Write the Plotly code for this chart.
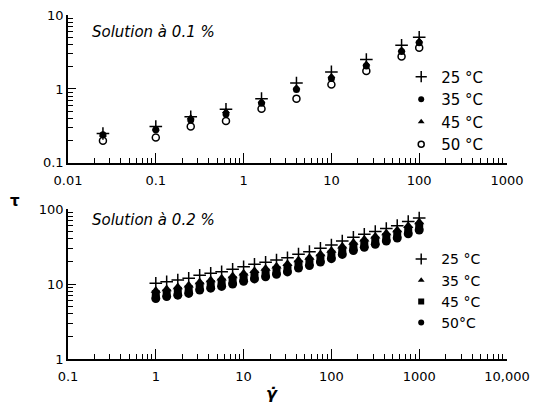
import plotly.graph_objects as go

# ---- data: top panel (solution 0.1 %) ----
rate_top = [0.025, 0.1, 0.25, 0.63, 1.6, 4, 10, 25, 63, 100]
top_25 = [0.25, 0.31, 0.42, 0.53, 0.74, 1.2, 1.7, 2.5, 3.9, 5.0]
top_35 = [0.24, 0.28, 0.38, 0.46, 0.64, 0.98, 1.38, 2.05, 3.2, 4.2]
top_45 = [0.24, 0.29, 0.41, 0.50, 0.68, 1.05, 1.48, 2.2, 3.4, 4.5]
top_50 = [0.20, 0.22, 0.31, 0.37, 0.54, 0.74, 1.15, 1.75, 2.74, 3.6]

# ---- data: bottom panel (solution 0.2 %) ----
rate_bot = [1, 1.33, 1.78, 2.37, 3.16, 4.22, 5.62, 7.5, 10, 13.3, 17.8, 23.7, 31.6,
            42.2, 56.2, 75, 100, 133, 178, 237, 316, 422, 562, 750, 1000]
bot_25 = [10.2, 10.7, 11.3, 11.9, 13.1, 13.9, 14.6, 15.7, 17.0, 18.3, 19.5, 20.9, 22.4,
          25.0, 27.0, 29.9, 33.1, 37.4, 42, 46, 50, 55, 60, 68, 76]
bot_35 = [8.2, 8.6, 9.1, 9.6, 10.6, 11.3, 11.9, 12.8, 13.9, 15.0, 16.1, 17.3, 18.6,
          20.9, 22.6, 25.2, 28.0, 31.8, 35.9, 39.5, 43.2, 47.8, 52.4, 59.6, 67]
bot_45 = [7.3, 7.6, 8.1, 8.5, 9.4, 10.0, 10.5, 11.3, 12.3, 13.3, 14.2, 15.3, 16.4,
          18.4, 19.9, 22.2, 24.7, 28.0, 31.6, 34.8, 38.1, 42.2, 46.3, 52.7, 59]
bot_50 = [6.4, 6.8, 7.1, 7.5, 8.3, 8.8, 9.3, 10.0, 10.9, 11.7, 12.5, 13.5, 14.5,
          16.3, 17.6, 19.6, 21.8, 24.8, 28.0, 30.8, 33.8, 37.4, 41.1, 46.8, 52.5]

top_xticks = [0.01, 0.1, 1, 10, 100, 1000]
top_xtext = ["0.01", "0.1", "1", "10", "100", "1000"]
top_yticks = [0.1, 1, 10]
top_ytext = ["0.1", "1", "10"]
bot_xticks = [0.1, 1, 10, 100, 1000, 10000]
bot_xtext = ["0.1", "1", "10", "100", "1000", "10,000"]
bot_yticks = [1, 10, 100]
bot_ytext = ["1", "10", "100"]

FONT = "DejaVu Sans"
BLK = "black"


def minors(lo, hi):
    return [m * 10 ** e for e in range(lo, hi) for m in range(2, 10)]


fig = go.Figure()


def add_series(x, y, name, legend, rank, marker, xa, ya, legend_marker):
    fig.add_trace(go.Scatter(x=x, y=y, mode="markers", name=name, showlegend=False,
                             marker=marker, xaxis=xa, yaxis=ya, cliponaxis=False))
    # legend-only entry with smaller symbol
    fig.add_trace(go.Scatter(x=[None], y=[None], mode="markers", name=name,
                             legend=legend, legendrank=rank, marker=legend_marker,
                             xaxis=xa, yaxis=ya))


plus_top = dict(symbol="cross-thin", size=9, color=BLK, line=dict(color=BLK, width=1.5))
plus_leg = dict(symbol="cross-thin", size=8, color=BLK, line=dict(color=BLK, width=1.5))

# top panel (50 first so that plus ends on top)
add_series(rate_top, top_50, "50 °C", "legend", 4,
           dict(symbol="circle", size=7, color="white", line=dict(color=BLK, width=1.5)),
           "x", "y",
           dict(symbol="circle", size=6, color="white", line=dict(color=BLK, width=1.5)))
add_series(rate_top, top_45, "45 °C", "legend", 3,
           dict(symbol="triangle-up", size=7, color=BLK), "x", "y",
           dict(symbol="triangle-up", size=6, color=BLK))
add_series(rate_top, top_35, "35 °C", "legend", 2,
           dict(symbol="circle", size=7, color=BLK), "x", "y",
           dict(symbol="circle", size=6, color=BLK))
add_series(rate_top, top_25, "25 °C", "legend", 1, plus_top, "x", "y", plus_leg)

# bottom panel
add_series(rate_bot, bot_50, "50°C", "legend2", 4,
           dict(symbol="circle", size=9, color=BLK), "x2", "y2",
           dict(symbol="circle", size=6, color=BLK))
add_series(rate_bot, bot_45, "45 °C", "legend2", 3,
           dict(symbol="square", size=8, color=BLK), "x2", "y2",
           dict(symbol="square", size=6, color=BLK))
add_series(rate_bot, bot_35, "35 °C", "legend2", 2,
           dict(symbol="triangle-up", size=9, color=BLK), "x2", "y2",
           dict(symbol="triangle-up", size=6, color=BLK))
add_series(rate_bot, bot_25, "25 °C", "legend2", 1, plus_top, "x2", "y2", plus_leg)

# empty traces hosting tick-only overlay axes (minor: 3/4, major: 5/6)
for n in (3, 4, 5, 6):
    fig.add_trace(go.Scatter(x=[None], y=[None], showlegend=False,
                             xaxis=f"x{n}", yaxis=f"y{n}"))

axis_common = dict(type="log", showgrid=False, zeroline=False, showline=True,
                   linecolor=BLK, linewidth=1.5, ticks="inside", tickcolor=BLK,
                   tickwidth=1, automargin=False, ticklabeloverflow="allow",
                   tickfont=dict(family=FONT, size=13, color=BLK))
tick_common = dict(type="log", showgrid=False, zeroline=False, showline=False,
                   ticks="inside", tickcolor=BLK, tickwidth=1, automargin=False,
                   showticklabels=False)

fig.update_layout(
    width=530, height=398,
    margin=dict(l=60, r=31, t=7, b=47, autoexpand=False),
    paper_bgcolor="white", plot_bgcolor="white",
    xaxis=dict(axis_common, domain=[0, 1], range=[-2, 3], anchor="y",
               tickvals=top_xticks, ticktext=top_xtext, ticklen=10,
               ticklabelstandoff=5),
    yaxis=dict(axis_common, domain=[0.570, 1], range=[-1, 1], anchor="x",
               tickvals=top_yticks, ticktext=top_ytext, ticklen=8),
    xaxis2=dict(axis_common, domain=[0, 1], range=[-1, 4], anchor="y2",
                tickvals=bot_xticks, ticktext=bot_xtext, ticklen=10,
                ticklabelstandoff=5),
    yaxis2=dict(axis_common, domain=[0, 0.436], range=[0, 2], anchor="x2",
                tickvals=bot_yticks, ticktext=bot_ytext, ticklen=8),
    # minor ticks
    xaxis3=dict(tick_common, overlaying="x", anchor="y3", side="bottom",
                range=[-2, 3], tickvals=minors(-2, 3), ticklen=5),
    yaxis3=dict(tick_common, overlaying="y", anchor="x3", side="left",
                range=[-1, 1], tickvals=minors(-1, 1), ticklen=5),
    xaxis4=dict(tick_common, overlaying="x2", anchor="y4", side="bottom",
                range=[-1, 4], tickvals=minors(-1, 4), ticklen=5),
    yaxis4=dict(tick_common, overlaying="y2", anchor="x4", side="left",
                range=[0, 2], tickvals=minors(0, 2), ticklen=5),
    # major ticks
    xaxis5=dict(tick_common, overlaying="x", anchor="y5", side="bottom",
                range=[-2, 3], tickvals=top_xticks, ticklen=10),
    yaxis5=dict(tick_common, overlaying="y", anchor="x5", side="left",
                range=[-1, 1], tickvals=top_yticks, ticklen=8),
    xaxis6=dict(tick_common, overlaying="x2", anchor="y6", side="bottom",
                range=[-1, 4], tickvals=bot_xticks, ticklen=10),
    yaxis6=dict(tick_common, overlaying="y2", anchor="x6", side="left",
                range=[0, 2], tickvals=bot_yticks, ticklen=8),
    legend=dict(x=0.759, y=0.868, xanchor="left", yanchor="top",
                bgcolor="rgba(0,0,0,0)", font=dict(family=FONT, size=15, color=BLK),
                itemclick=False, itemdoubleclick=False),
    legend2=dict(x=0.759, y=0.336, xanchor="left", yanchor="top",
                 bgcolor="rgba(0,0,0,0)", font=dict(family=FONT, size=14, color=BLK),
                 itemclick=False, itemdoubleclick=False),
    annotations=[
        dict(text="<i>Solution à 0.1 %</i>", x=0.05, y=0.951, xref="paper", yref="paper",
             xanchor="left", yanchor="middle", showarrow=False,
             font=dict(family=FONT, size=15, color=BLK)),
        dict(text="<i>Solution à 0.2 %</i>", x=0.05, y=0.404, xref="paper", yref="paper",
             xanchor="left", yanchor="middle", showarrow=False,
             font=dict(family=FONT, size=15, color=BLK)),
        dict(text="<b>τ</b>", x=-0.121, y=0.459, xref="paper", yref="paper",
             xanchor="center", yanchor="middle", showarrow=False,
             font=dict(family=FONT, size=15, color=BLK)),
        dict(text="<b><i>γ̇</i></b>", x=0.465, y=-0.099, xref="paper", yref="paper",
             xanchor="center", yanchor="middle", showarrow=False,
             font=dict(family=FONT, size=16, color=BLK)),
    ],
)

fig.write_html("out.html")
